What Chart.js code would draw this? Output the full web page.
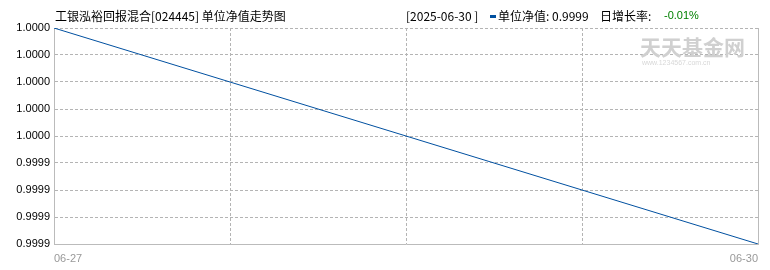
<!DOCTYPE html>
<html>
<head>
<meta charset="utf-8">
<script src="https://cdn.jsdelivr.net/npm/chart.js@4"></script>
<style>
  html, body { margin: 0; padding: 0; background: #fff; }
  #wrap { width: 770px; height: 270px; position: relative; }
</style>
</head>
<body>
<div id="wrap"><canvas id="navChart" width="770" height="270"></canvas></div>
<script>
// Data
const dates = ["06-27", "06-30"];
const navValues = [1.0000, 0.9999];
const yMin = 0.9999;
const yMax = 1.0000;
// y tick labels, bottom to top
const yTickLabels = ["0.9999", "0.9999", "0.9999", "0.9999", "1.0000", "1.0000", "1.0000", "1.0000", "1.0000"];

const titleText = "工银泓裕回报混合[024445] 单位净值走势图";
const dateText = "[2025-06-30 ]";
const navText = "单位净值: 0.9999";
const rateLabel = "日增长率: ";
const rateText = "-0.01%";

const CJK = "'Noto Sans CJK SC', 'DejaVu Sans', sans-serif";
const NUM = "'Liberation Sans', 'DejaVu Sans', sans-serif";

// Header texts and watermark
const headerPlugin = {
  id: "header",
  beforeDraw(chart) {
    const ctx = chart.ctx;
    ctx.save();
    ctx.fillStyle = "#fff";
    ctx.fillRect(0, 0, chart.width, chart.height);
    ctx.restore();
  },
  afterDraw(chart) {
    const ctx = chart.ctx;
    ctx.save();
    ctx.textBaseline = "middle";
    ctx.font = "12px " + CJK;
    ctx.fillStyle = "#000";
    ctx.fillText(titleText, 55, 16);
    ctx.fillText(dateText, 406, 16);
    // legend marker
    ctx.fillStyle = "#0050a0";
    ctx.fillRect(490, 15, 6, 3);
    ctx.fillStyle = "#000";
    ctx.fillText(navText, 498, 16);
    ctx.fillText(rateLabel, 600, 16);
    ctx.fillStyle = "#008000";
    ctx.font = "11px " + NUM;
    ctx.fillText(rateText, 664, 16);

    // watermark
    ctx.fillStyle = "#d0d0d0";
    ctx.font = "bold 21px " + CJK;
    ctx.textBaseline = "alphabetic";
    ctx.fillText("天天基金网", 640, 55);
    ctx.font = "7px " + NUM;
    ctx.fillStyle = "#d8d8d8";
    ctx.fillText("www.1234567.com.cn", 642, 65);
    ctx.restore();
  },
};

const chartOptions = {
  responsive: false,
  animation: false,
  layout: {
    padding: { top: 28, right: 12, left: 0, bottom: 0 },
  },
  elements: {
    line: { tension: 0 },
    point: { radius: 0 },
  },
  plugins: {
    legend: { display: false },
    tooltip: { enabled: false },
  },
  scales: {
    x: {
      type: "linear",
      min: 0,
      max: 1,
      afterFit(scale) {
        scale.height = 26;
      },
      afterBuildTicks(scale) {
        scale.ticks = [0, 0.25, 0.5, 0.75, 1].map((v) => ({ value: v }));
      },
      border: { display: true, color: "#bbbbbb", width: 1, dash: [3, 2] },
      grid: {
        color: (c) => (c.tick && (c.tick.value === 0 || c.tick.value === 1) ? "rgba(0,0,0,0)" : "#b4b4b4"),
        drawTicks: false,
      },
      ticks: {
        align: "inner",
        maxRotation: 0,
        autoSkip: false,
        padding: 8,
        color: "#999999",
        font: { family: NUM, size: 11 },
        callback: function (value) {
          if (value === 0) return dates[0];
          if (value === 1) return dates[1];
          return "";
        },
      },
    },
    y: {
      min: yMin,
      max: yMax,
      afterFit(scale) {
        scale.width = 54;
      },
      afterBuildTicks(scale) {
        const ticks = [];
        for (let i = 0; i < yTickLabels.length; i++) {
          ticks.push({ value: yMin + ((yMax - yMin) * i) / (yTickLabels.length - 1) });
        }
        scale.ticks = ticks;
      },
      border: { display: true, color: "#bbbbbb", width: 1, dash: [3, 2] },
      grid: {
        color: (c) => (c.index === 0 ? "rgba(0,0,0,0)" : "#b4b4b4"),
        drawTicks: false,
      },
      ticks: {
        padding: 4,
        color: "#000",
        font: { family: NUM, size: 11 },
        callback: function (value, index) {
          return yTickLabels[index];
        },
      },
    },
  },
};

const rightBorderPlugin = {
  id: "rightBorder",
  beforeDatasetsDraw(chart) {
    const a = chart.chartArea;
    const ctx = chart.ctx;
    ctx.save();
    ctx.strokeStyle = "#bbbbbb";
    ctx.lineWidth = 1;
    ctx.beginPath();
    ctx.moveTo(Math.round(a.right) + 0.5, a.top);
    ctx.lineTo(Math.round(a.right) + 0.5, a.bottom);
    ctx.stroke();
    ctx.restore();
  },
};

document.addEventListener("DOMContentLoaded", () => {
  const ctx = document.getElementById("navChart").getContext("2d");
  new Chart(ctx, {
    type: "line",
    data: {
      datasets: [
        {
          label: "单位净值",
          data: dates.map((d, i) => ({ x: i, y: navValues[i] })),
          borderColor: "#0050a0",
          borderWidth: 1,
          fill: false,
        },
      ],
    },
    options: chartOptions,
    plugins: [headerPlugin, rightBorderPlugin],
  });
});
</script>
</body>
</html>
